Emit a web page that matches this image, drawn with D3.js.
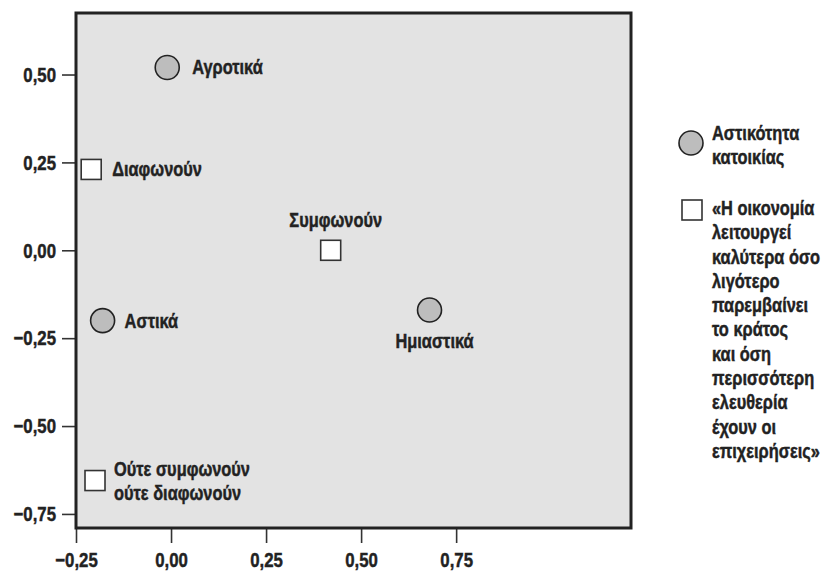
<!DOCTYPE html>
<html>
<head>
<meta charset="utf-8">
<script src="https://cdn.jsdelivr.net/npm/d3@7"></script>
<style>
  html, body { margin: 0; padding: 0; background: #fff; }
  svg { display: block; }
  text { font-family: "Liberation Sans", Arial, sans-serif; font-weight: bold; fill: #222; stroke: #222; stroke-width: 0.45; }
</style>
</head>
<body>
<svg id="chart" width="829" height="572"></svg>
<script>
// ---- data ----
const urbanCategories = ["Αγροτικά", "Αστικά", "Ημιαστικά"];
const urbanX = [-0.01, -0.18, 0.68];
const urbanY = [0.52, -0.20, -0.17];

const opinionCategories = [["Διαφωνούν"], ["Συμφωνούν"], ["Ούτε συμφωνούν", "ούτε διαφωνούν"]];
const opinionX = [-0.21, 0.42, -0.20];
const opinionY = [0.23, 0.00, -0.655];

const xTicks = [-0.25, 0.00, 0.25, 0.50, 0.75];
const yTicks = [-0.75, -0.50, -0.25, 0.00, 0.25, 0.50];

const legendUrban = ["Αστικότητα", "κατοικίας"];
const legendOpinion = ["«Η οικονομία", "λειτουργεί", "καλύτερα όσο", "λιγότερο", "παρεμβαίνει",
  "το κράτος", "και όση", "περισσότερη", "ελευθερία", "έχουν οι", "επιχειρήσεις»"];

// ---- layout / styles ----
const urbanLabelPos = [{dx: 25, dy: 7, anchor: "start"}, {dx: 22, dy: 7, anchor: "start"}, {dx: 5, dy: 38, anchor: "middle"}];
const opinionLabelPos = [{dx: 21, dy: 7, anchor: "start"}, {dx: 5, dy: -23.5, anchor: "middle"}, {dx: 19, dy: -4.5, anchor: "start"}];

const svg = d3.select("#chart");
const x = d3.scaleLinear().domain([-0.25, 1.21]).range([76, 631]);
const y = d3.scaleLinear().domain([-0.79, 0.675]).range([528, 13]);
const fmt = v => d3.format(".2f")(v).replace(".", ",").replace("-", "\u2212");
const fontSize = 20;
const tickFontSize = 21;
const squeeze = 0.82;

// condense text horizontally around its anchor x
function condense(sel, s = squeeze) {
  sel.each(function() {
    const ax = +this.getAttribute("x") || 0;
    d3.select(this).attr("transform", `translate(${ax},0) scale(${s},1) translate(${-ax},0)`);
  });
}

// plot background
svg.append("rect")
  .attr("x", x.range()[0]).attr("y", y.range()[1])
  .attr("width", x.range()[1] - x.range()[0])
  .attr("height", y.range()[0] - y.range()[1])
  .attr("fill", "#e3e3e3");

// axes
const yAxis = svg.append("g").attr("transform", `translate(${x.range()[0]},0)`)
  .call(d3.axisLeft(y).tickValues(yTicks).tickFormat(fmt).tickSize(14).tickPadding(6));
const xAxis = svg.append("g").attr("transform", `translate(0,${y.range()[0]})`)
  .call(d3.axisBottom(x).tickValues(xTicks).tickFormat(fmt).tickSize(15).tickPadding(9));
[xAxis, yAxis].forEach(g => {
  g.select(".domain").remove();
  g.attr("font-family", null).attr("font-size", null);
  g.selectAll(".tick line").attr("stroke", "#333").attr("stroke-width", 1.6);
  g.selectAll(".tick text").attr("font-size", tickFontSize).attr("fill", "#222")
    .call(condense, 0.8);
});

// frame
svg.append("rect")
  .attr("x", x.range()[0]).attr("y", y.range()[1])
  .attr("width", x.range()[1] - x.range()[0])
  .attr("height", y.range()[0] - y.range()[1])
  .attr("fill", "none").attr("stroke", "#222").attr("stroke-width", 3);

// urban circles
const urban = urbanCategories.map((c, i) => ({c, x: urbanX[i], y: urbanY[i], p: urbanLabelPos[i]}));
svg.selectAll("circle.urban").data(urban).join("circle")
  .attr("class", "urban")
  .attr("cx", d => x(d.x)).attr("cy", d => y(d.y)).attr("r", 12)
  .attr("fill", "#bdbdbd").attr("stroke", "#222").attr("stroke-width", 1.6);
svg.selectAll("text.urbanLabel").data(urban).join("text")
  .attr("class", "urbanLabel")
  .attr("x", d => x(d.x) + d.p.dx).attr("y", d => y(d.y) + d.p.dy)
  .attr("text-anchor", d => d.p.anchor).attr("font-size", fontSize)
  .text(d => d.c)
  .call(condense);

// opinion squares
const sq = 20;
const opinion = opinionCategories.map((c, i) => ({c, x: opinionX[i], y: opinionY[i], p: opinionLabelPos[i]}));
svg.selectAll("rect.op").data(opinion).join("rect")
  .attr("class", "op")
  .attr("x", d => x(d.x) - sq / 2).attr("y", d => y(d.y) - sq / 2)
  .attr("width", sq).attr("height", sq)
  .attr("fill", "#fff").attr("stroke", "#333").attr("stroke-width", 1.6);
const opText = svg.selectAll("text.opLabel").data(opinion).join("text")
  .attr("class", "opLabel")
  .attr("x", d => x(d.x) + d.p.dx).attr("y", d => y(d.y) + d.p.dy)
  .attr("text-anchor", d => d.p.anchor).attr("font-size", fontSize);
opText.each(function(d) {
  d3.select(this).selectAll("tspan").data(d.c).join("tspan")
    .attr("x", x(d.x) + d.p.dx)
    .attr("dy", (t, i) => i === 0 ? 0 : 24)
    .text(t => t);
});
opText.call(condense);

// legend
const lg = svg.append("g");
lg.append("circle").attr("cx", 691).attr("cy", 143).attr("r", 12)
  .attr("fill", "#bdbdbd").attr("stroke", "#222").attr("stroke-width", 1.6);
lg.append("text").attr("font-size", fontSize).attr("x", 712).attr("y", 140)
  .call(t => t.selectAll("tspan").data(legendUrban).join("tspan")
    .attr("x", 712).attr("dy", (s, i) => i === 0 ? 0 : 24.3).text(s => s))
  .call(condense);
lg.append("rect").attr("x", 682).attr("y", 200).attr("width", sq).attr("height", sq)
  .attr("fill", "#fff").attr("stroke", "#333").attr("stroke-width", 1.6);
lg.append("text").attr("font-size", fontSize).attr("x", 712).attr("y", 215)
  .call(t => t.selectAll("tspan").data(legendOpinion).join("tspan")
    .attr("x", 712).attr("dy", (s, i) => i === 0 ? 0 : 24.3).text(s => s))
  .call(condense);
</script>
</body>
</html>
